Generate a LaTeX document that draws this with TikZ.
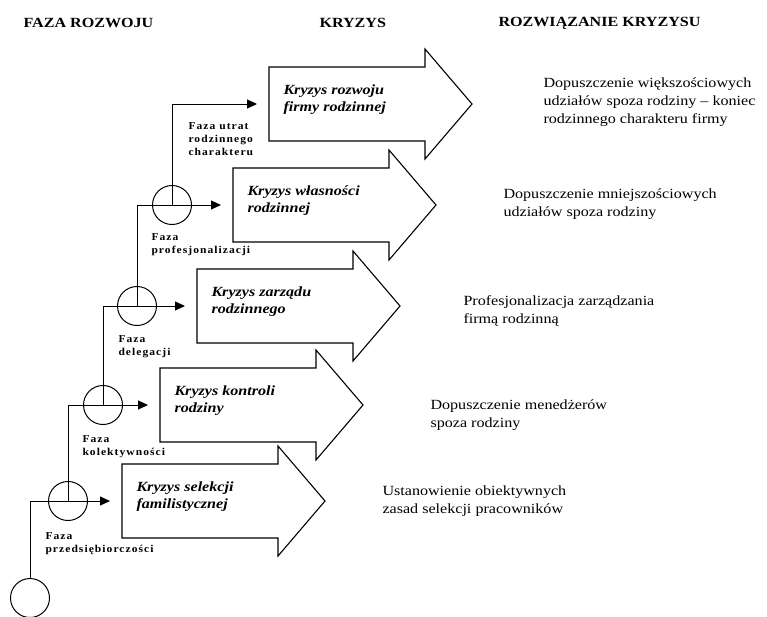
\documentclass[tikz,border=0pt]{standalone}
\usepackage{fontspec}
\setmainfont{Liberation Serif}[FakeStretch=1.15]
\newfontfamily\lblfont{Liberation Serif}[FakeStretch=1.1, LetterSpace=10]
\usetikzlibrary{arrows.meta, positioning, calc}

\begin{document}
\begin{tikzpicture}[x=1pt, y=-1pt, >={Triangle[length=10pt, width=9pt]}, line width=1pt,
    head/.style={font=\fontsize{14}{17}\selectfont\bfseries, anchor=west, inner sep=0pt},
    krok/.style={draw, circle, minimum size=39pt, inner sep=0pt},
    strzala/.style={draw, line width=1.1pt},
    faza/.style={font=\lblfont\fontsize{10.5}{13}\selectfont\bfseries, align=left, anchor=north west, inner sep=0pt},
    kryzys/.style={font=\fontsize{14}{17}\selectfont\bfseries\itshape, align=left, anchor=west, inner sep=0pt},
    wynik/.style={font=\fontsize{14}{18}\selectfont, align=left, anchor=west, inner sep=0pt}]
    \useasboundingbox (0,0) rectangle (767,616);

    \node[head] (h1) at (23,23) {FAZA ROZWOJU};
    \node[head] (h2) at (319,23) {KRYZYS};
    \node[head] (h3) at (498,23) {ROZWIĄZANIE KRYZYSU};

    \coordinate (a1) at (269,104);
    \coordinate (a2) at (233,205);
    \coordinate (a3) at (197,306);
    \coordinate (a4) at (160,405);
    \coordinate (a5) at (122,501);

    \draw[strzala] (a1) -- ++(0,-37) -- ++(156,0) -- ++(0,-18) -- ++(47,55) -- ++(-47,55) -- ++(0,-18) -- ++(-156,0) -- cycle;
    \draw[strzala] (a2) -- ++(0,-37) -- ++(156,0) -- ++(0,-18) -- ++(47,55) -- ++(-47,55) -- ++(0,-18) -- ++(-156,0) -- cycle;
    \draw[strzala] (a3) -- ++(0,-37) -- ++(156,0) -- ++(0,-18) -- ++(47,55) -- ++(-47,55) -- ++(0,-18) -- ++(-156,0) -- cycle;
    \draw[strzala] (a4) -- ++(0,-37) -- ++(156,0) -- ++(0,-18) -- ++(47,55) -- ++(-47,55) -- ++(0,-18) -- ++(-156,0) -- cycle;
    \draw[strzala] (a5) -- ++(0,-37) -- ++(156,0) -- ++(0,-18) -- ++(47,55) -- ++(-47,55) -- ++(0,-18) -- ++(-156,0) -- cycle;

    \node[kryzys] (k1) at ([shift={(14,-4)}]a1) {Kryzys rozwoju\\firmy rodzinnej};
    \node[kryzys] (k2) at ([shift={(14,-4)}]a2) {Kryzys własności\\rodzinnej};
    \node[kryzys] (k3) at ([shift={(14,-4)}]a3) {Kryzys zarządu\\rodzinnego};
    \node[kryzys] (k4) at ([shift={(14,-4)}]a4) {Kryzys kontroli\\rodziny};
    \node[kryzys] (k5) at ([shift={(14,-4)}]a5) {Kryzys selekcji\\familistycznej};

    \node[krok] (c0) at (30,598) {};
    \node[krok] (c1) at (68,501) {};
    \node[krok] (c2) at (103,405) {};
    \node[krok] (c3) at (137,306) {};
    \node[krok] (c4) at (172,205) {};

    \draw[->] (c0.north) |- ([xshift=-12pt]a5);
    \draw[->] (c1.center) |- ([xshift=-12pt]a4);
    \draw[->] (c2.center) |- ([xshift=-12pt]a3);
    \draw[->] (c3.center) |- ([xshift=-12pt]a2);
    \draw[->] (c4.center) |- ([xshift=-12pt]a1);

    \node[faza] (f1) at ($(c4.center |- a1)+(16,18)$) {Faza utrat\\rodzinnego\\charakteru};
    \node[faza] (f2) at ($(c4.west |- c4.south)+(-1,8)$) {Faza\\profesjonalizacji};
    \node[faza] (f3) at ($(c3.west |- c3.south)+(1,9)$) {Faza\\delegacji};
    \node[faza] (f4) at ($(c2.west |- c2.south)+(-1,10)$) {Faza\\kolektywności};
    \node[faza] (f5) at ($(c1.west |- c1.south)+(-3,11)$) {Faza\\przedsiębiorczości};

    \node[wynik] (r1) at (543,102) {Dopuszczenie większościowych\\udziałów spoza rodziny – koniec\\rodzinnego charakteru firmy};
    \node[wynik] (r2) at (503,204) {Dopuszczenie mniejszościowych\\udziałów spoza rodziny};
    \node[wynik] (r3) at (463,311) {Profesjonalizacja zarządzania\\firmą rodzinną};
    \node[wynik] (r4) at (430,415) {Dopuszczenie menedżerów\\spoza rodziny};
    \node[wynik] (r5) at (382,501) {Ustanowienie obiektywnych\\zasad selekcji pracowników};
\end{tikzpicture}
\end{document}
